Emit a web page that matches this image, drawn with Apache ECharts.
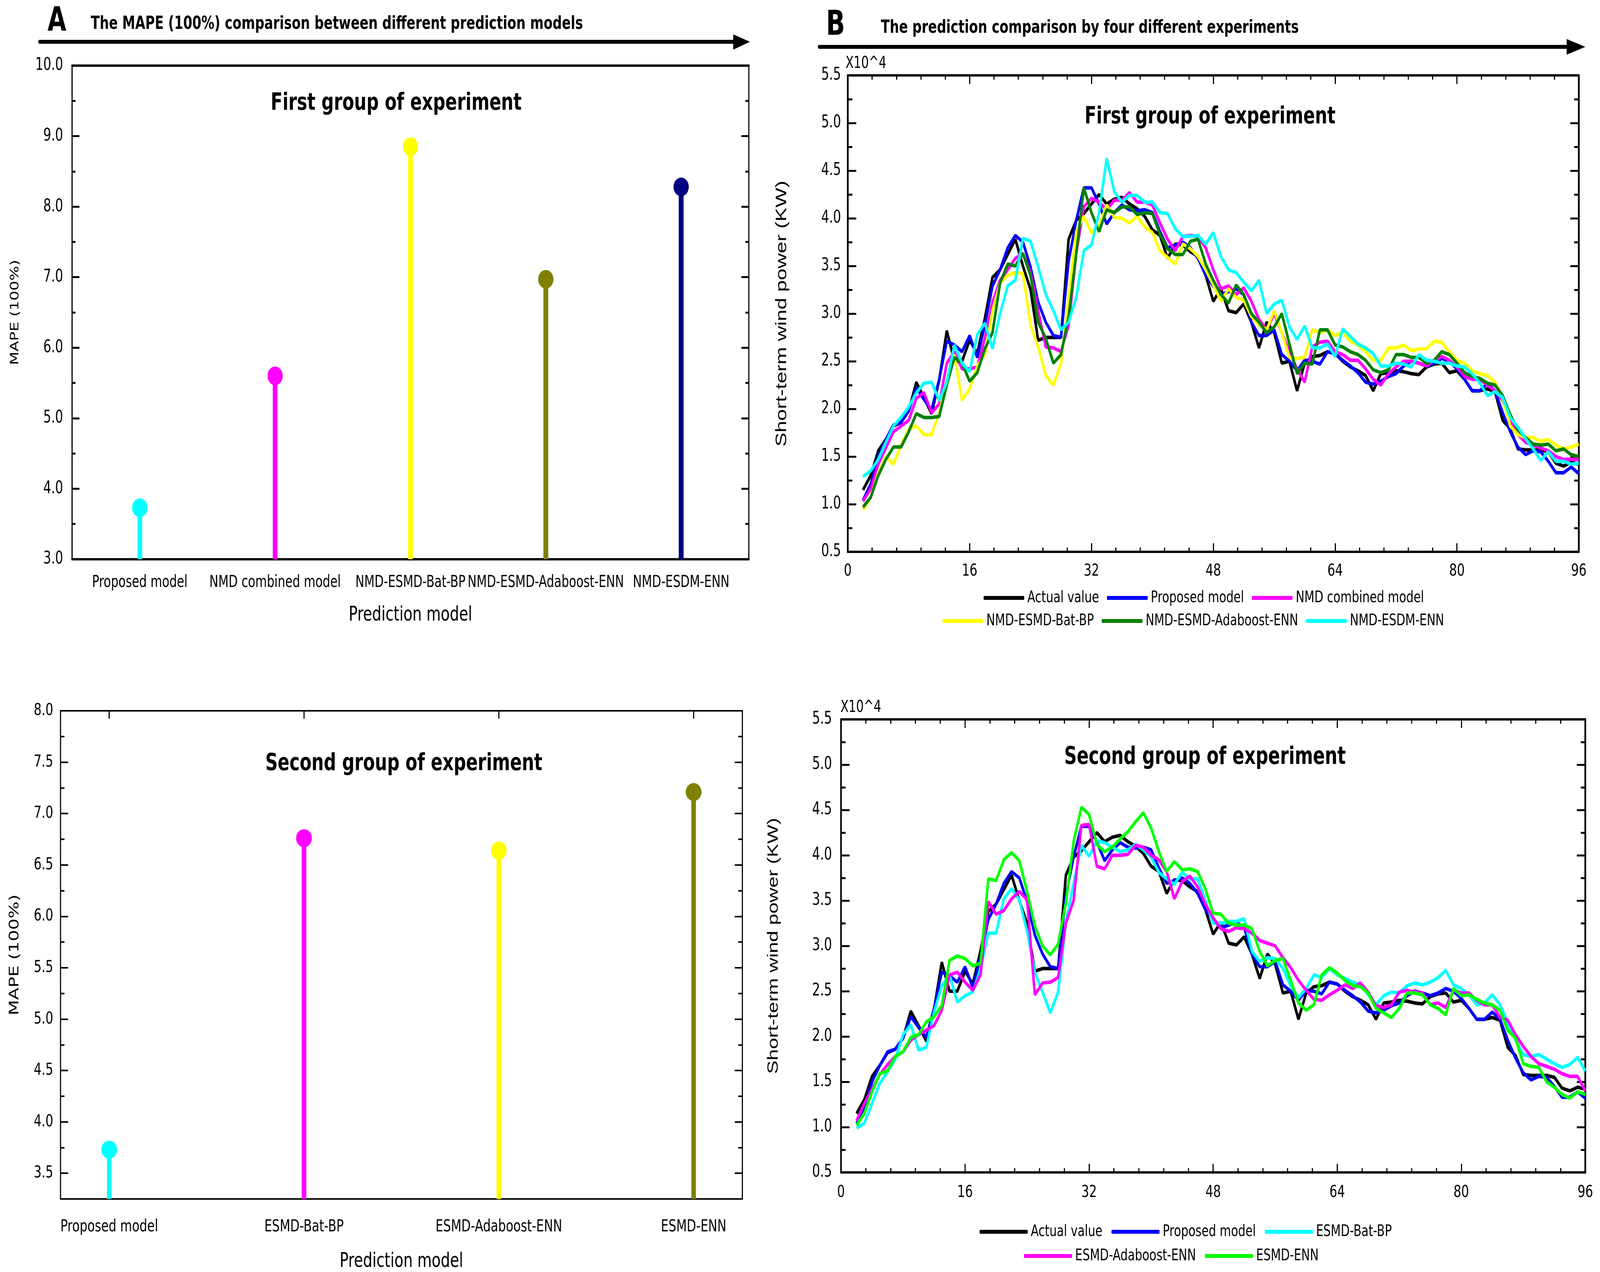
<!DOCTYPE html>
<html>
<head>
<meta charset="utf-8">
<script src="https://cdn.jsdelivr.net/npm/echarts@6/dist/echarts.min.js"></script>
<style>
html,body{margin:0;padding:0;background:#fff;overflow:hidden;}
#chart{width:5658px;height:3257px;transform-origin:0 0;}
</style>
</head>
<body>
<div id="chart"></div>
<script>
// ---------- DATA ----------
const catsA = ['Proposed model','NMD combined model','NMD-ESMD-Bat-BP','NMD-ESMD-Adaboost-ENN','NMD-ESDM-ENN'];
const mapeA = [3.73, 5.60, 8.85, 6.97, 8.28];
const colorsA = ['#00FFFF','#FF00FF','#FFFF00','#808000','#000080'];

const catsB = ['Proposed model','ESMD-Bat-BP','ESMD-Adaboost-ENN','ESMD-ENN'];
const mapeB = [3.73, 6.76, 6.64, 7.21];
const colorsB = ['#00FFFF','#FF00FF','#FFFF00','#808000'];

const yTicksB = [3.5,4.0,4.5,5.0,5.5,6.0,6.5,7.0,7.5,8.0];

// time steps of the forecast (x positions 2..96)
const steps = Array.from({length:95}, (_, i) => i + 2);

const actual = [1.15,1.30,1.56,1.68,1.82,1.86,1.98,2.28,2.12,1.95,
2.30,2.82,2.50,2.50,2.72,2.58,2.95,3.38,3.46,3.62,
3.78,3.50,3.25,2.72,2.75,2.75,2.75,3.78,3.98,4.05,
4.15,4.25,4.15,4.20,4.22,4.15,4.10,4.02,3.88,3.82,
3.58,3.73,3.72,3.65,3.60,3.40,3.13,3.26,3.03,3.01,
3.10,2.91,2.64,2.91,2.80,2.48,2.50,2.19,2.48,2.55,
2.56,2.60,2.58,2.50,2.44,2.40,2.35,2.19,2.37,2.38,
2.40,2.39,2.37,2.36,2.44,2.47,2.48,2.38,2.40,2.31,
2.19,2.19,2.21,2.18,1.88,1.79,1.58,1.57,1.57,1.57,
1.55,1.43,1.40,1.44,1.42];

const proposed = [1.04,1.21,1.50,1.68,1.83,1.86,1.98,2.22,2.10,1.99,
2.31,2.71,2.67,2.60,2.77,2.54,2.88,3.29,3.46,3.69,
3.82,3.75,3.49,3.12,2.91,2.77,2.75,3.55,3.98,4.32,
4.32,4.15,3.94,4.06,4.14,4.09,4.08,4.09,4.06,3.86,
3.69,3.72,3.75,3.69,3.58,3.40,3.29,3.20,3.23,3.26,
3.20,2.91,2.77,2.77,2.83,2.57,2.50,2.40,2.51,2.50,
2.47,2.60,2.58,2.51,2.45,2.38,2.28,2.26,2.29,2.34,
2.37,2.45,2.50,2.48,2.45,2.48,2.53,2.50,2.42,2.31,
2.19,2.19,2.27,2.19,1.96,1.76,1.60,1.52,1.56,1.55,
1.45,1.33,1.33,1.39,1.32];

const nmdCombined = [1.03,1.16,1.42,1.59,1.76,1.82,1.88,2.11,2.17,1.96,
2.05,2.48,2.60,2.42,2.42,2.44,2.74,3.12,3.35,3.46,
3.58,3.63,3.43,3.03,2.65,2.64,2.60,2.88,3.63,4.12,
4.21,4.17,4.09,4.19,4.19,4.27,4.17,4.17,4.14,3.95,
3.78,3.66,3.81,3.82,3.81,3.69,3.46,3.26,3.29,3.20,
3.27,3.13,2.94,2.83,3.00,2.80,2.60,2.42,2.28,2.65,
2.70,2.71,2.60,2.57,2.51,2.51,2.42,2.31,2.25,2.37,
2.44,2.50,2.50,2.48,2.45,2.51,2.55,2.51,2.44,2.34,
2.31,2.31,2.25,2.19,2.09,1.88,1.73,1.65,1.62,1.59,
1.56,1.50,1.47,1.47,1.47];

const nmdBatBP = [0.94,1.07,1.33,1.50,1.42,1.62,1.79,1.82,1.73,1.73,
1.96,2.31,2.57,2.09,2.21,2.45,2.57,3.03,3.32,3.40,
3.43,3.42,2.88,2.65,2.35,2.25,2.48,3.17,3.86,4.02,
3.85,3.92,4.14,4.01,4.00,3.95,4.02,3.91,3.85,3.66,
3.59,3.52,3.73,3.68,3.60,3.46,3.30,3.13,3.26,3.17,
3.14,2.97,2.88,2.83,3.03,2.80,2.54,2.53,2.54,2.83,
2.80,2.83,2.77,2.80,2.71,2.67,2.60,2.51,2.51,2.64,
2.64,2.67,2.61,2.63,2.63,2.71,2.70,2.60,2.51,2.48,
2.40,2.37,2.35,2.28,2.11,1.82,1.73,1.70,1.70,1.66,
1.68,1.62,1.58,1.60,1.63];

const nmdAdaENN = [0.97,1.07,1.30,1.47,1.60,1.60,1.76,1.95,1.91,1.91,
1.92,2.25,2.54,2.48,2.29,2.38,2.63,2.80,3.32,3.52,
3.50,3.63,3.40,2.91,2.74,2.48,2.57,2.97,3.63,4.32,
4.06,3.86,4.09,4.06,4.12,4.12,4.04,4.06,4.05,3.83,
3.68,3.62,3.62,3.76,3.78,3.52,3.35,3.20,3.11,3.30,
3.20,3.00,2.91,2.80,2.86,3.00,2.68,2.37,2.48,2.47,
2.83,2.83,2.67,2.65,2.60,2.57,2.51,2.41,2.38,2.41,
2.57,2.57,2.54,2.54,2.48,2.51,2.60,2.57,2.48,2.38,
2.34,2.32,2.27,2.25,2.14,1.94,1.78,1.70,1.63,1.62,
1.63,1.56,1.58,1.52,1.50];

const nmdEsdmENN = [1.29,1.35,1.47,1.65,1.82,1.91,2.02,2.17,2.27,2.28,
2.09,2.28,2.67,2.48,2.39,2.78,2.90,2.63,3.00,3.29,
3.35,3.79,3.76,3.49,3.20,3.03,2.83,2.91,3.17,3.66,
3.72,4.06,4.63,4.28,4.17,4.24,4.24,4.17,4.17,4.06,
4.05,3.89,3.81,3.81,3.82,3.73,3.85,3.60,3.46,3.43,
3.33,3.24,3.35,3.00,3.10,3.14,2.86,2.73,2.87,2.64,
2.64,2.68,2.55,2.84,2.76,2.68,2.64,2.58,2.45,2.45,
2.48,2.47,2.44,2.57,2.51,2.50,2.48,2.48,2.45,2.44,
2.37,2.27,2.14,2.18,2.12,1.91,1.81,1.69,1.58,1.46,
1.55,1.45,1.45,1.42,1.43];

const esmdBatBP = [0.99,1.04,1.26,1.48,1.61,1.75,2.02,2.13,1.85,1.88,
2.27,2.56,2.68,2.38,2.45,2.49,2.75,3.14,3.14,3.52,
3.63,3.51,3.16,2.71,2.49,2.26,2.49,3.25,3.69,4.11,
3.99,4.16,4.14,4.09,4.04,4.06,4.12,4.06,3.98,3.81,
3.74,3.68,3.81,3.74,3.74,3.50,3.25,3.25,3.27,3.27,
3.30,2.94,2.83,2.87,2.86,2.75,2.56,2.43,2.53,2.68,
2.65,2.75,2.68,2.64,2.60,2.57,2.46,2.35,2.45,2.49,
2.48,2.56,2.59,2.57,2.60,2.65,2.73,2.57,2.53,2.46,
2.35,2.37,2.46,2.35,2.15,1.96,1.80,1.78,1.80,1.75,
1.70,1.66,1.69,1.77,1.62];

const esmdAdaENN = [1.07,1.26,1.42,1.58,1.69,1.78,1.83,1.96,2.02,2.07,
2.12,2.29,2.68,2.71,2.60,2.51,2.68,3.49,3.35,3.39,
3.52,3.60,3.51,2.46,2.59,2.60,2.65,3.25,3.50,4.33,
4.34,3.88,3.85,4.00,4.00,4.01,4.11,4.09,4.00,3.95,
3.82,3.52,3.71,3.77,3.65,3.46,3.31,3.19,3.16,3.20,
3.19,3.14,3.06,3.03,3.00,2.87,2.76,2.62,2.51,2.41,
2.40,2.46,2.51,2.57,2.53,2.59,2.49,2.34,2.32,2.35,
2.49,2.51,2.49,2.48,2.35,2.37,2.32,2.51,2.48,2.48,
2.40,2.35,2.35,2.21,2.18,2.02,1.89,1.78,1.70,1.67,
1.64,1.59,1.56,1.56,1.40];

const esmdENN = [1.02,1.15,1.39,1.59,1.62,1.78,1.83,1.99,2.02,2.16,
2.22,2.34,2.84,2.89,2.86,2.78,2.81,3.74,3.72,3.95,
4.03,3.94,3.60,3.22,3.00,2.90,3.02,3.47,4.15,4.53,
4.45,4.12,4.04,4.09,4.18,4.26,4.37,4.47,4.30,4.04,
3.82,3.93,3.84,3.85,3.82,3.63,3.36,3.35,3.25,3.23,
3.23,3.19,2.94,2.78,2.84,2.86,2.62,2.37,2.29,2.35,
2.68,2.76,2.70,2.62,2.56,2.55,2.48,2.31,2.26,2.21,
2.31,2.48,2.48,2.46,2.35,2.31,2.24,2.53,2.45,2.46,
2.41,2.37,2.35,2.29,2.07,1.98,1.70,1.67,1.66,1.50,
1.44,1.36,1.32,1.39,1.36];

// ---------- STYLE ----------
const DJ = "'DejaVu Sans', sans-serif";
const LS = "'Liberation Sans', Arial, sans-serif";
const BLACK = '#000';

// stretch the 5658x3257 figure to exactly fill the browser window
(function(){
  const sx = window.innerWidth / 5658, sy = window.innerHeight / 3257;
  if (Math.abs(sx - 1) > 0.001 || Math.abs(sy - 1) > 0.001)
    document.getElementById('chart').style.transform = 'scale(' + sx + ',' + sy + ')';
})();

function pairs(vals){ return vals.map((v,i)=>[steps[i], v]); }

const chart = echarts.init(document.getElementById('chart'), null, {renderer:'canvas', width:5658, height:3257});

function lineSeries(name, color, vals, xi, yi){
  return {type:'line', name, xAxisIndex:xi, yAxisIndex:yi, data:pairs(vals),
    showSymbol:false, symbol:'none', clip:true, animation:false,
    itemStyle:{color}, lineStyle:{color, width:9}};
}

const grids = [
  {left:255, top:168, width:2393, height:1264},
  {left:214, top:1820, width:2411, height:1255},
  {left:2998, top:193, width:2585, height:1220},
  {left:2974, top:1842, width:2632, height:1160}
];

const AL = (w)=>({show:true, onZero:false, lineStyle:{color:BLACK, width:w}});

const xAxes = [
  // grid 0
  {type:'category', gridIndex:0, data:catsA, position:'bottom', boundaryGap:true,
   axisLine:AL(6),
   axisTick:{inside:true, alignWithLabel:true, length:22, lineStyle:{color:BLACK, width:4}},
   axisLabel:{interval:0, color:BLACK, fontFamily:DJ, fontSize:42, margin:39},
   name:'Prediction model', nameLocation:'middle', nameGap:117,
   nameTextStyle:{fontFamily:DJ, fontSize:52, color:BLACK},
   splitLine:{show:false}},
  {type:'category', gridIndex:0, data:catsA, position:'top', boundaryGap:true,
   axisLine:AL(6),
   axisTick:{inside:true, alignWithLabel:true, length:22, lineStyle:{color:BLACK, width:4}},
   axisLabel:{show:false}, splitLine:{show:false}},
  // grid 1
  {type:'value', gridIndex:1, min:-0.25, max:3.25, position:'bottom',
   axisLine:AL(4),
   axisTick:{inside:true, customValues:[0,1,2,3], length:20, lineStyle:{color:BLACK, width:4}},
   axisLabel:{customValues:[0,1,2,3], formatter:(v)=>catsB[Math.round(v)], color:BLACK, fontFamily:DJ, fontSize:43, margin:50},
   name:'Prediction model', nameLocation:'middle', nameGap:134,
   nameTextStyle:{fontFamily:DJ, fontSize:52, color:BLACK},
   splitLine:{show:false}},
  {type:'value', gridIndex:1, min:-0.25, max:3.25, position:'top',
   axisLine:AL(4),
   axisTick:{inside:true, customValues:[0,1,2,3], length:20, lineStyle:{color:BLACK, width:4}},
   axisLabel:{show:false}, splitLine:{show:false}},
  // grid 2
  {type:'value', gridIndex:2, min:0, max:96, interval:16, position:'bottom',
   axisLine:AL(6),
   axisTick:{inside:true, length:22, lineStyle:{color:BLACK, width:4}},
   minorTick:{show:true, splitNumber:5, length:11, lineStyle:{color:BLACK, width:4}},
   axisLabel:{color:BLACK, fontFamily:DJ, fontSize:43, margin:28},
   splitLine:{show:false}, minorSplitLine:{show:false}},
  {type:'value', gridIndex:2, min:0, max:96, interval:16, position:'top',
   axisLine:AL(6),
   axisTick:{inside:true, length:22, lineStyle:{color:BLACK, width:4}},
   minorTick:{show:true, splitNumber:5, length:11, lineStyle:{color:BLACK, width:4}},
   axisLabel:{show:false}, splitLine:{show:false}},
  // grid 3
  {type:'value', gridIndex:3, min:0, max:96, interval:16, position:'bottom',
   axisLine:AL(6),
   axisTick:{inside:true, length:22, lineStyle:{color:BLACK, width:4}},
   minorTick:{show:true, splitNumber:5, length:11, lineStyle:{color:BLACK, width:4}},
   axisLabel:{color:BLACK, fontFamily:DJ, fontSize:43, margin:30},
   splitLine:{show:false}},
  {type:'value', gridIndex:3, min:0, max:96, interval:16, position:'top',
   axisLine:AL(6),
   axisTick:{inside:true, length:22, lineStyle:{color:BLACK, width:4}},
   minorTick:{show:true, splitNumber:5, length:11, lineStyle:{color:BLACK, width:4}},
   axisLabel:{show:false}, splitLine:{show:false}}
];

const yAxes = [
  // grid 0 (index 0,1)
  {type:'value', gridIndex:0, min:3, max:10, interval:1, position:'left',
   axisLine:AL(4),
   axisTick:{show:true, inside:true, length:26, lineStyle:{color:BLACK, width:5}},
   minorTick:{show:true, splitNumber:2, length:12, lineStyle:{color:BLACK, width:5}},
   axisLabel:{formatter:(v)=>v.toFixed(1), color:BLACK, fontFamily:DJ, fontSize:44, margin:32},
   name:'MAPE (100%)', nameLocation:'middle', nameGap:180,
   nameTextStyle:{fontFamily:DJ, fontSize:40, color:BLACK},
   splitLine:{show:false}, minorSplitLine:{show:false}},
  {type:'value', gridIndex:0, min:3, max:10, interval:1, position:'right',
   axisLine:AL(4),
   axisTick:{show:true, inside:true, length:26, lineStyle:{color:BLACK, width:5}},
   minorTick:{show:true, splitNumber:2, length:12, lineStyle:{color:BLACK, width:5}},
   axisLabel:{show:false}, splitLine:{show:false}},
  // grid 1 (index 2..5)
  {type:'value', gridIndex:1, min:3.25, max:8, position:'left',
   axisLine:AL(4),
   axisTick:{show:true, inside:true, customValues:yTicksB, length:27, lineStyle:{color:BLACK, width:4}},
   axisLabel:{customValues:yTicksB, formatter:(v)=>v.toFixed(1), color:BLACK, fontFamily:DJ, fontSize:43, margin:26},
   name:'MAPE (100%)', nameLocation:'middle', nameGap:138,
   nameTextStyle:{fontFamily:DJ, fontSize:46, color:BLACK},
   splitLine:{show:false}},
  {type:'value', gridIndex:1, min:3.25, max:8, interval:0.25, position:'left',
   axisLine:{show:false, onZero:false},
   axisTick:{show:true, inside:true, length:14, lineStyle:{color:BLACK, width:4}},
   axisLabel:{show:false}, splitLine:{show:false}},
  {type:'value', gridIndex:1, min:3.25, max:8, position:'right',
   axisLine:AL(4),
   axisTick:{show:true, inside:true, customValues:yTicksB, length:27, lineStyle:{color:BLACK, width:4}},
   axisLabel:{show:false}, splitLine:{show:false}},
  {type:'value', gridIndex:1, min:3.25, max:8, interval:0.25, position:'right',
   axisLine:{show:false, onZero:false},
   axisTick:{show:true, inside:true, length:14, lineStyle:{color:BLACK, width:4}},
   axisLabel:{show:false}, splitLine:{show:false}},
  // grid 2 (index 6,7)
  {type:'value', gridIndex:2, min:0.5, max:5.5, interval:0.5, position:'left',
   axisLine:AL(6),
   axisTick:{show:true, inside:true, length:30, lineStyle:{color:BLACK, width:5}},
   minorTick:{show:true, splitNumber:2, length:16, lineStyle:{color:BLACK, width:5}},
   axisLabel:{formatter:(v)=>v.toFixed(1), color:BLACK, fontFamily:DJ, fontSize:44, margin:24},
   name:'Short-term wind power (KW)', nameLocation:'middle', nameGap:206,
   nameTextStyle:{fontFamily:LS, fontSize:54, color:BLACK},
   splitLine:{show:false}},
  {type:'value', gridIndex:2, min:0.5, max:5.5, interval:0.5, position:'right',
   axisLine:AL(6),
   axisTick:{show:true, inside:true, length:30, lineStyle:{color:BLACK, width:5}},
   minorTick:{show:true, splitNumber:2, length:16, lineStyle:{color:BLACK, width:5}},
   axisLabel:{show:false}, splitLine:{show:false}},
  // grid 3 (index 8,9)
  {type:'value', gridIndex:3, min:0.5, max:5.5, interval:0.5, position:'left',
   axisLine:AL(6),
   axisTick:{show:true, inside:true, length:30, lineStyle:{color:BLACK, width:5}},
   minorTick:{show:true, splitNumber:2, length:16, lineStyle:{color:BLACK, width:5}},
   axisLabel:{formatter:(v)=>v.toFixed(1), color:BLACK, fontFamily:DJ, fontSize:44, margin:32},
   name:'Short-term wind power (KW)', nameLocation:'middle', nameGap:212,
   nameTextStyle:{fontFamily:LS, fontSize:52, color:BLACK},
   splitLine:{show:false}},
  {type:'value', gridIndex:3, min:0.5, max:5.5, interval:0.5, position:'right',
   axisLine:AL(6),
   axisTick:{show:true, inside:true, length:30, lineStyle:{color:BLACK, width:5}},
   minorTick:{show:true, splitNumber:2, length:16, lineStyle:{color:BLACK, width:5}},
   axisLabel:{show:false}, splitLine:{show:false}}
];

const series = [
  {type:'bar', xAxisIndex:0, yAxisIndex:0, barWidth:17, clip:true, animation:false,
   data: mapeA.map((v,i)=>({value:v, itemStyle:{color:colorsA[i]}}))},
  {type:'scatter', xAxisIndex:0, yAxisIndex:0, symbol:'circle', symbolSize:[54,48], animation:false, z:5,
   data: mapeA.map((v,i)=>({value:v, itemStyle:{color:colorsA[i], opacity:1}}))},
  {type:'bar', xAxisIndex:2, yAxisIndex:2, barWidth:16, clip:true, animation:false,
   data: mapeB.map((v,i)=>({value:[i, v], itemStyle:{color:colorsB[i]}}))},
  {type:'scatter', xAxisIndex:2, yAxisIndex:2, symbol:'circle', symbolSize:[56,46], animation:false, z:5,
   data: mapeB.map((v,i)=>({value:[i, v], itemStyle:{color:colorsB[i], opacity:1}}))},
  lineSeries('Actual value', '#000000', actual, 4, 6),
  lineSeries('Proposed model', '#0000FF', proposed, 4, 6),
  lineSeries('NMD combined model', '#FF00FF', nmdCombined, 4, 6),
  lineSeries('NMD-ESMD-Bat-BP', '#FFFF00', nmdBatBP, 4, 6),
  lineSeries('NMD-ESMD-Adaboost-ENN', '#008000', nmdAdaENN, 4, 6),
  lineSeries('NMD-ESDM-ENN', '#00FFFF', nmdEsdmENN, 4, 6),
  lineSeries('Actual value', '#000000', actual, 6, 8),
  lineSeries('Proposed model', '#0000FF', proposed, 6, 8),
  lineSeries('ESMD-Bat-BP', '#00FFFF', esmdBatBP, 6, 8),
  lineSeries('ESMD-Adaboost-ENN', '#FF00FF', esmdAdaENN, 6, 8),
  lineSeries('ESMD-ENN', '#00FF00', esmdENN, 6, 8)
];

function legend(names, left, top, w, gap){
  return {data:names, left, top, orient:'horizontal', padding:0,
    icon:'roundRect', itemWidth:w, itemHeight:10, itemGap:gap, selectedMode:false,
    textStyle:{fontFamily:DJ, fontSize:41, color:BLACK, lineHeight:46, padding:[0,0,0,6]}};
}

const legends = [
  legend(['Actual value','Proposed model','NMD combined model'], 3478, 1508, 144, 28),
  legend(['NMD-ESMD-Bat-BP','NMD-ESMD-Adaboost-ENN','NMD-ESDM-ENN'], 3333, 1567, 144, 28),
  legend(['Actual value','Proposed model','ESMD-Bat-BP'], 3464, 3131, 170, 32),
  legend(['ESMD-Adaboost-ENN','ESMD-ENN'], 3621, 3193, 170, 32)
];

function txt(text, x, y, size, weight, align, family){
  return {type:'text', x, y, z:100, silent:true,
    style:{text, fontSize:size, fontWeight:weight||'normal', fontFamily:family||DJ,
      fill:BLACK, align:align||'left', verticalAlign:'middle'}};
}

const graphics = [
  txt('A', 168, 56, 86, 'bold'),
  txt('The MAPE (100%) comparison between different prediction models', 321, 62, 46, 'bold'),
  {type:'line', z:100, silent:true, shape:{x1:140, y1:107, x2:2600, y2:107},
   style:{stroke:BLACK, lineWidth:10, lineCap:'round'}},
  {type:'polygon', z:100, silent:true, shape:{points:[[2593,88],[2652,107],[2593,127]]},
   style:{fill:BLACK}},
  txt('B', 2921, 66, 88, 'bold'),
  txt('The prediction comparison by four different experiments', 3115, 72, 46, 'bold'),
  {type:'line', z:100, silent:true, shape:{x1:2897, y1:120, x2:5545, y2:120},
   style:{stroke:BLACK, lineWidth:10, lineCap:'round'}},
  {type:'polygon', z:100, silent:true, shape:{points:[[5540,100],[5606,120],[5540,140]]},
   style:{fill:BLACK}},
  txt('First group of experiment', 1401, 265, 61, 'bold', 'center'),
  txt('Second group of experiment', 1428, 1956, 61, 'bold', 'center'),
  txt('First group of experiment', 4279, 300, 61, 'bold', 'center'),
  txt('Second group of experiment', 4261, 1940, 62, 'bold', 'center'),
  txt('X10^4', 2990, 163, 42),
  txt('X10^4', 2972, 1812, 42)
];

chart.setOption({
  animation:false,
  backgroundColor:'#ffffff',
  grid:grids,
  xAxis:xAxes,
  yAxis:yAxes,
  legend:legends,
  series:series,
  graphic:graphics
});
</script>
</body>
</html>
